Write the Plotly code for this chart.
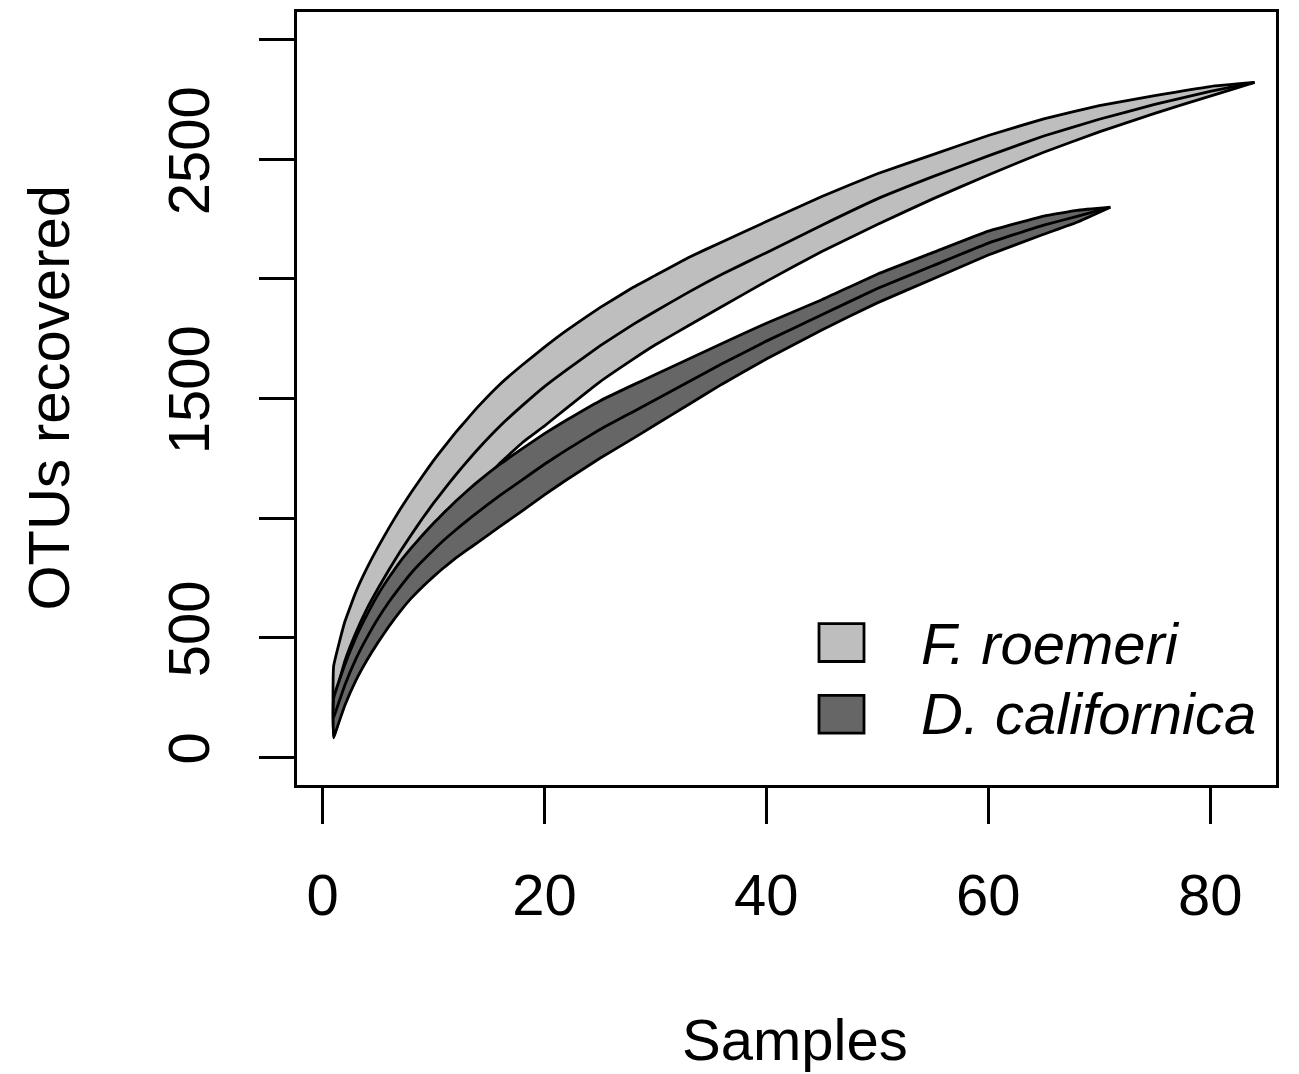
import plotly.graph_objects as go

# ---- data ----
fr_samples = [1, 2, 3, 4, 5, 6, 7, 8, 9, 10, 11, 12, 13, 14, 16, 18, 20, 22, 25, 28, 30, 33, 36, 40, 45, 50, 55, 60, 65, 70, 75, 80, 84]
fr_mean = [230, 400, 520, 620, 705, 785, 860, 930, 998, 1062, 1122, 1180, 1235, 1288, 1385, 1470, 1550, 1620, 1720, 1810, 1865, 1945, 2020, 2110, 2225, 2335, 2428, 2515, 2598, 2668, 2730, 2785, 2822]
fr_upper = [380, 565, 690, 790, 878, 960, 1037, 1108, 1175, 1240, 1300, 1358, 1412, 1465, 1560, 1640, 1715, 1785, 1880, 1965, 2015, 2090, 2155, 2240, 2345, 2440, 2520, 2600, 2670, 2725, 2767, 2805, 2822]
fr_lower = [80, 235, 350, 450, 532, 610, 683, 752, 821, 884, 944, 1002, 1058, 1125, 1230, 1315, 1385, 1460, 1570, 1665, 1725, 1805, 1885, 1990, 2115, 2228, 2335, 2435, 2530, 2615, 2693, 2765, 2822]

dc_samples = [1, 2, 3, 4, 5, 6, 7, 8, 9, 10, 11, 12, 13, 14, 16, 18, 20, 22, 25, 28, 30, 33, 36, 40, 45, 50, 55, 60, 65, 68, 71]
dc_mean = [165, 300, 410, 500, 580, 650, 712, 770, 820, 866, 910, 950, 988, 1025, 1095, 1160, 1225, 1285, 1370, 1445, 1495, 1570, 1645, 1740, 1850, 1960, 2055, 2150, 2225, 2262, 2300]
dc_upper = [245, 385, 500, 595, 680, 752, 818, 875, 928, 978, 1025, 1070, 1112, 1152, 1225, 1290, 1353, 1410, 1490, 1557, 1600, 1665, 1730, 1815, 1913, 2020, 2110, 2200, 2263, 2287, 2300]
dc_lower = [85, 215, 320, 405, 480, 548, 610, 665, 712, 755, 795, 832, 866, 898, 965, 1030, 1097, 1160, 1250, 1333, 1390, 1475, 1560, 1665, 1787, 1900, 2000, 2100, 2187, 2237, 2300]

x_ticks = [0, 20, 40, 60, 80]
y_ticks = [0, 500, 1000, 1500, 2000, 2500, 3000]
y_tick_labels = ["0", "500", "", "1500", "", "2500", ""]

series_names = ["F. roemeri", "D. californica"]
fill_colors = ["#bebebe", "#666666"]

FONT = "Liberation Sans, Arial, Helvetica, sans-serif"
FS = 58
LW = 2.8

fig = go.Figure()


def add_band(xs, lo, hi, mean, color, name):
    px = list(xs) + list(reversed(xs)) + [xs[0]]
    py = list(hi) + list(reversed(lo)) + [hi[0]]
    fig.add_trace(go.Scatter(x=px, y=py, mode="lines", fill="toself",
                             fillcolor=color,
                             line=dict(color="black", width=LW, shape="spline", smoothing=0.3),
                             name=name, showlegend=False, hoverinfo="skip"))
    fig.add_trace(go.Scatter(x=xs, y=mean, mode="lines",
                             line=dict(color="black", width=LW, shape="spline", smoothing=0.3),
                             showlegend=False, name=name))


add_band(fr_samples, fr_lower, fr_upper, fr_mean, fill_colors[0], series_names[0])
add_band(dc_samples, dc_lower, dc_upper, dc_mean, fill_colors[1], series_names[1])

# plot area in pixels
L, R, T, B = 297, 1276, 9, 785
W, H = 1299, 1074


def pxx(p):
    return (p - L) / (R - L)


def pxy(p):
    return (B - p) / (B - T)


# legend (drawn manually to match R-style legend)
leg_boxes = [(819, 623, 864, 661), (819, 695, 864, 733)]
leg_text_y = [643, 713]
for (x0, y0, x1, y1), col, name, ty in zip(leg_boxes, fill_colors, series_names, leg_text_y):
    fig.add_shape(type="rect", xref="paper", yref="paper",
                  x0=pxx(x0), x1=pxx(x1), y0=pxy(y1), y1=pxy(y0),
                  fillcolor=col, line=dict(color="black", width=LW))
    fig.add_annotation(xref="paper", yref="paper", x=pxx(919), y=pxy(ty),
                       xanchor="left", yanchor="middle", showarrow=False,
                       text="<i>" + name + "</i>",
                       font=dict(family=FONT, size=FS, color="black"))

# axis titles
fig.add_annotation(xref="paper", yref="paper", x=pxx(795), y=pxy(1040),
                   xanchor="center", yanchor="middle", showarrow=False,
                   text="Samples", font=dict(family=FONT, size=FS, color="black"))
fig.add_annotation(xref="paper", yref="paper", x=pxx(48), y=pxy(397),
                   xanchor="center", yanchor="middle", showarrow=False, textangle=-90,
                   text="OTUs recovered", font=dict(family=FONT, size=FS, color="black"))

fig.update_layout(
    width=W, height=H,
    margin=dict(l=L, r=W - R, t=T, b=H - B, pad=0),
    paper_bgcolor="white", plot_bgcolor="white",
    font=dict(family=FONT, size=FS, color="black"),
    showlegend=False,
)
fig.update_xaxes(range=[-2.30, 85.93], tickvals=x_ticks, ticks="outside", ticklen=36,
                 tickwidth=2.5, tickcolor="black", showline=True, linecolor="black",
                 linewidth=3, mirror=True, showgrid=False, zeroline=False,
                 tickfont=dict(family=FONT, size=FS), ticklabelstandoff=21)
fig.update_yaxes(range=[-116.7, 3116.7], tickvals=y_ticks, ticktext=y_tick_labels,
                 ticks="outside", ticklen=35, tickwidth=2.5, tickcolor="black",
                 showline=True, linecolor="black", linewidth=3, mirror=True,
                 showgrid=False, zeroline=False, tickangle=-90,
                 tickfont=dict(family=FONT, size=FS), ticklabelstandoff=27)

fig.write_html("out.html")
